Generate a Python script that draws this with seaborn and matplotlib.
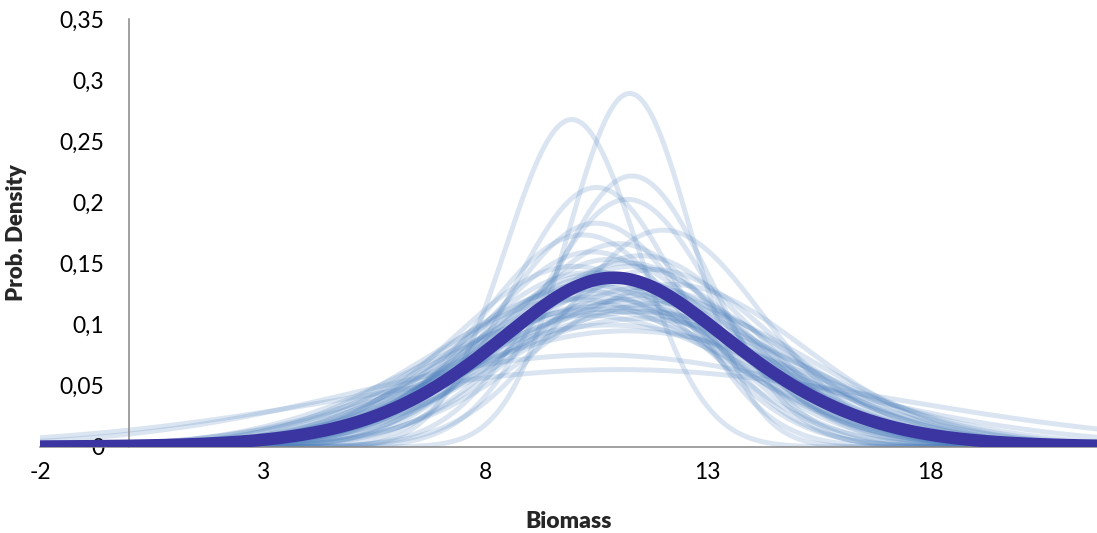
import math

import matplotlib
matplotlib.use("Agg")
import matplotlib.pyplot as plt
import numpy as np
import pandas as pd
import seaborn as sns

# ---------------------------------------------------------------------
# Data: one normal density per simulated run (mean, sd)
# ---------------------------------------------------------------------
run_means = [11.25, 9.95, 11.3, 10.5, 11.2, 10.5, 12.0, 10.2, 11.0, 10.4,
             11.5, 10.8, 11.2, 10.0, 11.8, 10.6, 11.1, 10.3, 11.6, 10.9,
             10.5, 11.4, 10.7, 11.0, 10.2, 11.5, 10.8, 11.2, 10.5, 11.0,
             10.6, 11.3, 10.1, 11.7, 10.9, 11.1, 10.4, 11.9, 10.7, 11.3,
             10.0, 12.2, 10.8, 11.5, 10.3]
run_sds = [1.38, 1.49, 1.80, 1.88, 1.97, 2.18, 2.25, 2.30, 2.40, 2.50,
           2.55, 2.60, 2.65, 2.70, 2.75, 2.80, 2.90, 3.00, 3.05, 3.15,
           3.25, 3.30, 3.45, 3.60, 3.70, 3.80, 4.00, 4.20, 5.30, 6.30,
           2.85, 2.95, 3.10, 3.20, 3.35, 3.50, 3.55, 3.40, 2.90, 2.70,
           3.30, 3.00, 3.05, 3.60, 2.80]

x_ticks = [-2, 3, 8, 13, 18]
x_tick_labels = ["-2", "3", "8", "13", "18"]
y_ticks = [0, 0.05, 0.1, 0.15, 0.2, 0.25, 0.3, 0.35]
y_tick_labels = ["0", "0,05", "0,1", "0,15", "0,2", "0,25", "0,3", "0,35"]

x_min, x_max = -2, 21.75
grid = np.linspace(x_min, x_max, 600)


def normal_pdf(x, mu, sd):
    return np.exp(-0.5 * ((x - mu) / sd) ** 2) / (sd * math.sqrt(2 * math.pi))


rows = []
for i, (mu, sd) in enumerate(zip(run_means, run_sds)):
    rows.append(pd.DataFrame({"run": i, "Biomass": grid, "density": normal_pdf(grid, mu, sd)}))
runs_df = pd.concat(rows, ignore_index=True)
mean_df = runs_df.groupby("Biomass", as_index=False)["density"].mean()

# ---------------------------------------------------------------------
# Plot
# ---------------------------------------------------------------------
sns.set_style("white")
plt.rcParams["font.family"] = ["Lato", "DejaVu Sans"]

fig = plt.figure(figsize=(10.97, 5.33), dpi=100)
ax = fig.add_axes([0.0365, 0.1614, 0.9635, 0.803])

sns.lineplot(data=runs_df, x="Biomass", y="density", units="run", estimator=None,
             color="#4F81BD", alpha=0.2, lw=3.6, ax=ax, legend=False)
sns.lineplot(data=mean_df, x="Biomass", y="density", color="#3A35A0",
             lw=9, ax=ax, zorder=5)

ax.set_xlim(x_min, x_max)
ax.set_ylim(0, 0.35)
ax.set_xticks(x_ticks)
ax.set_xticklabels(x_tick_labels)
ax.set_yticks(y_ticks)
ax.set_yticklabels(y_tick_labels)

for side in ["top", "right"]:
    ax.spines[side].set_visible(False)
ax.spines["left"].set_position(("data", 0))
for side in ["left", "bottom"]:
    ax.spines[side].set_color("#868686")
    ax.spines[side].set_linewidth(1.1)

ax.tick_params(axis="both", direction="out", length=6, width=1.1, color="#868686",
               labelsize=16.5, labelcolor="black")
ax.tick_params(axis="x", pad=5)
ax.tick_params(axis="y", pad=12)

ax.set_xlabel("Biomass", fontsize=16.5, fontweight="heavy", labelpad=20)
ax.set_ylabel("Prob. Density", fontsize=16, fontweight="heavy")
ax.yaxis.set_label_coords(-0.0123, 0.5)

fig.savefig("out.png", dpi=100)
plt.close(fig)
